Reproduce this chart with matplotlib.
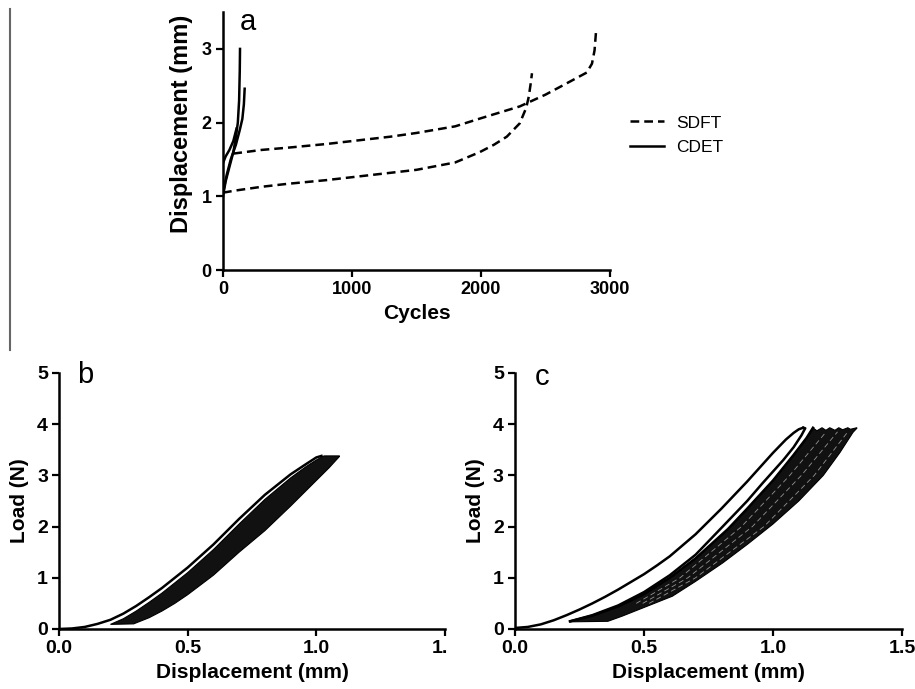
import matplotlib
matplotlib.use('Agg')
import matplotlib.pyplot as plt
from matplotlib.lines import Line2D
from matplotlib.transforms import Bbox, TransformedBbox

plt.rcParams['font.family'] = ['Liberation Sans', 'DejaVu Sans']

# ---- panel a: displacement vs cycles ----
sdft1_cycles = [0, 100, 300, 500, 800, 1000, 1300, 1500, 1800, 1990, 2100, 2200, 2300, 2350, 2370, 2385, 2395]
sdft1_disp = [1.05, 1.08, 1.13, 1.17, 1.22, 1.26, 1.32, 1.36, 1.46, 1.60, 1.70, 1.81, 1.99, 2.2, 2.35, 2.53, 2.67]
sdft2_cycles = [80, 300, 500, 800, 1000, 1300, 1500, 1800, 2000, 2300, 2500, 2650, 2820, 2860, 2880, 2893]
sdft2_disp = [1.58, 1.63, 1.66, 1.71, 1.75, 1.81, 1.86, 1.95, 2.06, 2.22, 2.38, 2.52, 2.68, 2.8, 2.98, 3.27]
cdet1_cycles = [0, 20, 50, 80, 100, 115, 125, 130, 132]
cdet1_disp = [1.0, 1.2, 1.4, 1.6, 1.8, 2.0, 2.3, 2.7, 3.0]
cdet2_cycles = [0, 30, 60, 100, 130, 150, 162, 168]
cdet2_disp = [1.05, 1.3, 1.5, 1.7, 1.9, 2.05, 2.25, 2.46]
cdet3_cycles = [0, 20, 50, 80, 105]
cdet3_disp = [1.45, 1.54, 1.63, 1.75, 1.92]

# ---- panel b: load vs displacement (SDFT) ----
b_first_x = [0.0, 0.05, 0.10, 0.15, 0.20, 0.25, 0.30, 0.35, 0.40, 0.45, 0.50, 0.60, 0.70, 0.80, 0.90, 0.96, 1.00, 1.02]
b_first_y = [0.0, 0.01, 0.04, 0.10, 0.18, 0.30, 0.45, 0.62, 0.80, 1.00, 1.20, 1.65, 2.15, 2.62, 3.02, 3.22, 3.35, 3.38]
b_band_top_x = [0.20, 0.25, 0.30, 0.35, 0.40, 0.45, 0.50, 0.60, 0.70, 0.80, 0.90, 0.96, 1.00, 1.03, 1.09]
b_band_top_y = [0.09, 0.20, 0.35, 0.52, 0.70, 0.90, 1.10, 1.55, 2.05, 2.53, 2.95, 3.17, 3.30, 3.38, 3.38]
b_band_low_x = [1.09, 1.05, 1.00, 0.95, 0.90, 0.80, 0.70, 0.60, 0.50, 0.45, 0.40, 0.35, 0.29, 0.20]
b_band_low_y = [3.37, 3.15, 2.90, 2.65, 2.40, 1.92, 1.50, 1.05, 0.67, 0.50, 0.35, 0.22, 0.10, 0.09]

# ---- panel c: load vs displacement (CDET) ----
c_first_load_x = [0.0, 0.05, 0.10, 0.15, 0.20, 0.25, 0.30, 0.35, 0.40, 0.45, 0.50, 0.55, 0.60, 0.70, 0.80,
                  0.90, 0.95, 1.00, 1.05, 1.08, 1.10, 1.117]
c_first_load_y = [0.02, 0.04, 0.09, 0.17, 0.27, 0.38, 0.50, 0.63, 0.77, 0.92, 1.07, 1.24, 1.42, 1.85, 2.35,
                  2.88, 3.16, 3.44, 3.70, 3.83, 3.90, 3.93]
c_first_unload_x = [1.117, 1.125, 1.11, 1.08, 1.04, 0.96, 0.90, 0.805, 0.70, 0.60, 0.50, 0.40, 0.30, 0.213]
c_first_unload_y = [3.93, 3.92, 3.78, 3.55, 3.30, 2.85, 2.50, 2.00, 1.45, 1.05, 0.72, 0.46, 0.27, 0.15]
c_band_top_x = [0.215, 0.30, 0.40, 0.50, 0.60, 0.70, 0.825, 0.90, 1.00, 1.08, 1.13, 1.155, 1.17, 1.19, 1.205,
                1.22, 1.24, 1.255, 1.27, 1.29, 1.30, 1.325]
c_band_top_y = [0.15, 0.26, 0.44, 0.68, 1.00, 1.38, 1.95, 2.35, 2.90, 3.40, 3.73, 3.93, 3.87, 3.93, 3.88,
                3.93, 3.88, 3.93, 3.89, 3.93, 3.90, 3.93]
c_band_low_x = [1.325, 1.31, 1.26, 1.195, 1.10, 1.00, 0.90, 0.805, 0.70, 0.61, 0.50, 0.415, 0.36, 0.215]
c_band_low_y = [3.92, 3.84, 3.45, 3.00, 2.50, 2.05, 1.65, 1.29, 0.93, 0.64, 0.42, 0.25, 0.15, 0.14]
c_streak_load = [0.5, 1.0, 2.0, 3.0, 3.85]
c_streak_disp = [
    [0.47, 0.64, 0.878, 1.065, 1.206],
    [0.495, 0.67, 0.92, 1.11, 1.25],
    [0.52, 0.70, 0.965, 1.16, 1.29],
]

LW = 1.8
fig = plt.figure(figsize=(9.15, 6.89), dpi=100)


def style_axes(ax, tick_size):
    for s in ['top', 'right']:
        ax.spines[s].set_visible(False)
    for s in ['left', 'bottom']:
        ax.spines[s].set_linewidth(1.8)
    ax.tick_params(direction='out', length=5, width=1.6, labelsize=tick_size, pad=3)
    for lab in ax.get_xticklabels() + ax.get_yticklabels():
        lab.set_fontweight('bold')


# panel a
ax_a = fig.add_axes([0.2437, 0.608, 0.4230, 0.3745])
dash = (0, (3.5, 2.0))
ax_a.plot(sdft1_cycles, sdft1_disp, color='black', lw=LW, linestyle=dash)
ax_a.plot(sdft2_cycles, sdft2_disp, color='black', lw=LW, linestyle=dash)
for cx, cy in [(cdet1_cycles, cdet1_disp), (cdet2_cycles, cdet2_disp), (cdet3_cycles, cdet3_disp)]:
    ax_a.plot(cx, cy, color='black', lw=LW)
ax_a.set_xlim(0, 3000)
ax_a.set_ylim(0, 3.5)
ax_a.set_xticks([0, 1000, 2000, 3000])
ax_a.set_yticks([0, 1, 2, 3])
style_axes(ax_a, 13)
ax_a.set_xlabel('Cycles', fontsize=15, fontweight='bold', labelpad=4)
ax_a.set_ylabel('Displacement (mm)', fontsize=17, fontweight='bold')
ax_a.yaxis.set_label_coords(-0.078, 0.566)
handles = [Line2D([], [], color='black', lw=LW, linestyle=dash),
           Line2D([], [], color='black', lw=LW)]
ax_a.legend(handles, ['SDFT', 'CDET'], loc='upper left', bbox_to_anchor=(1.01, 0.66),
            frameon=False, fontsize=12.5, handlelength=2.0, handletextpad=0.7, labelspacing=0.55)

# panel b
ax_b = fig.add_axes([0.0645, 0.0871, 0.4218, 0.3716])
ax_b.fill(b_band_top_x + b_band_low_x, b_band_top_y + b_band_low_y, color='#111111', lw=0.8,
          edgecolor='black')
ax_b.plot(b_first_x, b_first_y, color='black', lw=LW)
ax_b.set_xlim(0, 1.5)
ax_b.set_ylim(0, 5)
ax_b.set_xticks([0, 0.5, 1.0, 1.5])
ax_b.set_xticklabels(['0.0', '0.5', '1.0', '1.5'])
ax_b.set_yticks([0, 1, 2, 3, 4, 5])
style_axes(ax_b, 14)
ax_b.set_xlabel('Displacement (mm)', fontsize=15, fontweight='bold', labelpad=4)
ax_b.set_ylabel('Load (N)', fontsize=15, fontweight='bold', labelpad=6)
# the source figure is cropped right through the last tick label
cut = ax_b.xaxis.get_major_ticks()[-1].label1
cut.set_clip_on(True)
cut.set_clip_box(TransformedBbox(Bbox([[0, 0], [447 / 915, 1]]), fig.transFigure))

# panel c
ax_c = fig.add_axes([0.5628, 0.0871, 0.4230, 0.3716])
ax_c.fill(c_band_top_x + c_band_low_x, c_band_top_y + c_band_low_y, color='#111111', lw=0.8,
          edgecolor='black')
for sx in c_streak_disp:
    ax_c.plot(sx, c_streak_load, color='white', lw=0.6, alpha=0.55, linestyle=(0, (6, 4)))
ax_c.plot(c_band_top_x[:12], c_band_top_y[:12], color='black', lw=LW)
ax_c.plot(c_first_load_x, c_first_load_y, color='black', lw=LW)
ax_c.plot(c_first_unload_x, c_first_unload_y, color='black', lw=LW)
ax_c.set_xlim(0, 1.5)
ax_c.set_ylim(0, 5)
ax_c.set_xticks([0, 0.5, 1.0, 1.5])
ax_c.set_xticklabels(['0.0', '0.5', '1.0', '1.5'])
ax_c.set_yticks([0, 1, 2, 3, 4, 5])
style_axes(ax_c, 14)
ax_c.set_xlabel('Displacement (mm)', fontsize=15, fontweight='bold', labelpad=4)
ax_c.set_ylabel('Load (N)', fontsize=15, fontweight='bold', labelpad=6)

# panel letters
fig.text(248 / 915, 1 - 22 / 689, 'a', fontsize=21, ha='center', va='center')
fig.text(85 / 915, 1 - 375 / 689, 'b', fontsize=21, ha='center', va='center')
fig.text(542 / 915, 1 - 377 / 689, 'c', fontsize=21, ha='center', va='center')

# grey rule at the left edge of the original page
fig.add_artist(Line2D([10 / 915, 10 / 915], [1 - 9 / 689, 1 - 350 / 689], transform=fig.transFigure,
                      color='#666666', lw=1.5))

fig.savefig('out.png', dpi=100)
